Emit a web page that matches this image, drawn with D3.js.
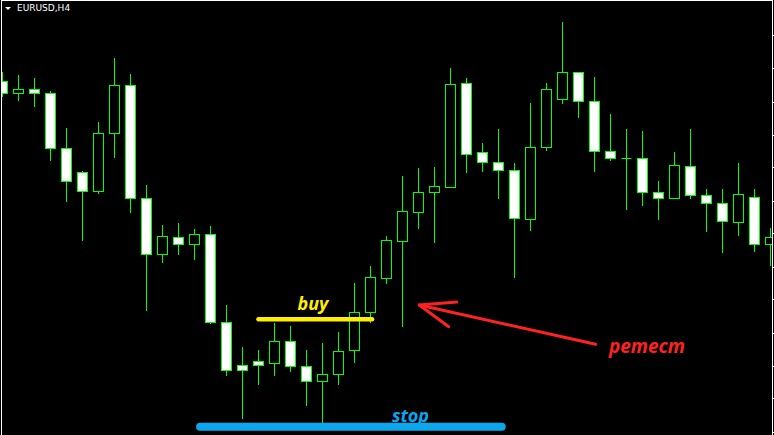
<!DOCTYPE html>
<html>
<head>
<meta charset="utf-8">
<script src="https://cdn.jsdelivr.net/npm/d3@7"></script>
<style>
  body { margin: 0; background: #000; }
  svg { display: block; }
</style>
</head>
<body>
<div id="chart"></div>
<script>
// EURUSD H4 candles
var opens  = [1.1369, 1.1357, 1.1361, 1.1357, 1.1302, 1.1278, 1.1259, 1.1317, 1.1365, 1.1252,
              1.1196, 1.1213, 1.1206, 1.1216, 1.1128, 1.1085, 1.1089, 1.1087, 1.1109, 1.1084,
              1.1069, 1.1076, 1.1100, 1.1138, 1.1172, 1.1209, 1.1238, 1.1258, 1.1263, 1.1367,
              1.1298, 1.1288, 1.1280, 1.1231, 1.1303, 1.1351, 1.1378, 1.1349, 1.1299, 1.1292,
              1.1292, 1.1258, 1.1252, 1.1284, 1.1255, 1.1247, 1.1228, 1.1253, 1.1206];
var highs  = [1.1378, 1.1375, 1.1372, 1.1359, 1.1322, 1.1279, 1.1328, 1.1392, 1.1376, 1.1265,
              1.1225, 1.1227, 1.1221, 1.1224, 1.1145, 1.1103, 1.1100, 1.1127, 1.1124, 1.1100,
              1.1107, 1.1118, 1.1167, 1.1184, 1.1214, 1.1274, 1.1282, 1.1283, 1.1382, 1.1372,
              1.1307, 1.1321, 1.1287, 1.1347, 1.1367, 1.1428, 1.1378, 1.1373, 1.1336, 1.1321,
              1.1319, 1.1269, 1.1298, 1.1321, 1.1261, 1.1261, 1.1287, 1.1261, 1.1222];
var lows   = [1.1353, 1.1349, 1.1343, 1.1289, 1.1248, 1.1209, 1.1256, 1.1292, 1.1237, 1.1139,
              1.1187, 1.1195, 1.1190, 1.1126, 1.1074, 1.1031, 1.1065, 1.1074, 1.1078, 1.1044,
              1.1027, 1.1065, 1.1087, 1.1127, 1.1166, 1.1123, 1.1221, 1.1207, 1.1262, 1.1277,
              1.1278, 1.1251, 1.1172, 1.1219, 1.1299, 1.1346, 1.1332, 1.1278, 1.1289, 1.1240,
              1.1244, 1.1230, 1.1252, 1.1251, 1.1218, 1.1197, 1.1214, 1.1198, 1.1184];
var closes = [1.1357, 1.1361, 1.1357, 1.1302, 1.1269, 1.1259, 1.1317, 1.1365, 1.1252, 1.1196,
              1.1214, 1.1206, 1.1216, 1.1128, 1.1080, 1.1080, 1.1085, 1.1109, 1.1084, 1.1069,
              1.1076, 1.1099, 1.1138, 1.1173, 1.1210, 1.1239, 1.1258, 1.1264, 1.1366, 1.1296,
              1.1288, 1.1280, 1.1232, 1.1303, 1.1361, 1.1378, 1.1349, 1.1299, 1.1292, 1.1292,
              1.1258, 1.1252, 1.1285, 1.1255, 1.1247, 1.1229, 1.1256, 1.1206, 1.1213];

// price axis tick positions (labels are off screen)
var tickPrices = [1.1415, 1.1382, 1.1348, 1.1315, 1.1283, 1.1249, 1.1217,
                  1.1183, 1.1151, 1.1117, 1.1084, 1.1052, 1.1018];

// hand drawn annotations: [candle index, price]
var buyLevel  = 1.11307, buyFrom = 16.0, buyTo = 23.1;
var stopLevel = 1.10233, stopFrom = 12.35, stopTo = 31.2;
var arrowPts  = [[37.07, 1.11057], [26.05, 1.1145]];
var arrowArms = [[28.39, 1.1148], [27.89, 1.11233]];
var labels = [
  { text: "buy",    i: 19.4,  p: 1.1140,  color: "#ffee00", anchor: "middle", size: 18 },
  { text: "stop",   i: 25.5,  p: 1.10283, color: "#0aa6ee", anchor: "middle", size: 18 },
  { text: "ретест", i: 37.9,  p: 1.10973, color: "#ff2222", anchor: "start",  size: 19 }
];

var svgWidth = 774;
var svgHeight = 435;

var candles = opens.map(function(o, i) {
  return { i: i, o: o, h: highs[i], l: lows[i], c: closes[i] };
});

var svg = d3.select("#chart")
  .append("svg")
  .attr("width", svgWidth)
  .attr("height", svgHeight)
  .style("background", "#000");

// scales: one candle every 16px, one pip per pixel
var x = d3.scaleLinear()
  .domain([0, candles.length - 1])
  .range([2.5, 2.5 + 16 * (candles.length - 1)]);

var y = d3.scaleLinear()
  .domain([1.1450, 1.1015])
  .range([0, svgHeight]);

svg.append("clipPath")
  .attr("id", "plot")
  .append("rect")
  .attr("x", 2).attr("y", 1)
  .attr("width", 770).attr("height", svgHeight);

var plot = svg.append("g").attr("clip-path", "url(#plot)");

var green = "#00ff00";

// wicks
plot.selectAll("line.wick")
  .data(candles)
  .enter()
  .append("line")
  .attr("class", "wick")
  .attr("x1", d => x(d.i))
  .attr("x2", d => x(d.i))
  .attr("y1", d => Math.round(y(d.h)))
  .attr("y2", d => Math.round(y(d.l)))
  .attr("stroke", green)
  .attr("stroke-width", 1);

// bodies
plot.selectAll("rect.body")
  .data(candles.filter(d => d.o !== d.c))
  .enter()
  .append("rect")
  .attr("class", "body")
  .attr("x", d => x(d.i) - 5)
  .attr("y", d => Math.round(y(Math.max(d.o, d.c))) + 0.5)
  .attr("width", 10)
  .attr("height", d => Math.round(y(Math.min(d.o, d.c))) - Math.round(y(Math.max(d.o, d.c))))
  .attr("fill", d => d.c < d.o ? "#ffffff" : "#000000")
  .attr("stroke", green)
  .attr("stroke-width", 1);

// doji
plot.selectAll("line.doji")
  .data(candles.filter(d => d.o === d.c))
  .enter()
  .append("line")
  .attr("class", "doji")
  .attr("x1", d => x(d.i) - 5)
  .attr("x2", d => x(d.i) + 5)
  .attr("y1", d => Math.round(y(d.o)) + 0.5)
  .attr("y2", d => Math.round(y(d.o)) + 0.5)
  .attr("stroke", green);

// frame
svg.append("line")
  .attr("x1", 1.5).attr("x2", 1.5).attr("y1", 0).attr("y2", svgHeight)
  .attr("stroke", "#fff");
svg.append("line")
  .attr("x1", 1).attr("x2", 773).attr("y1", 0.5).attr("y2", 0.5)
  .attr("stroke", "#fff");

var yAxis = d3.axisRight(y)
  .tickValues(tickPrices)
  .tickSize(3)
  .tickSizeOuter(0)
  .tickFormat("");

var axisG = svg.append("g")
  .attr("transform", "translate(772, 0)")
  .call(yAxis);
axisG.select(".domain").attr("stroke", "#fff");
axisG.selectAll(".tick line").attr("stroke", "#fff");

// title
svg.append("path")
  .attr("d", "M5,7L11,7L8,10Z")
  .attr("fill", "#fff");
svg.append("text")
  .attr("x", 17)
  .attr("y", 11)
  .attr("font-family", "DejaVu Sans")
  .attr("font-size", "9px")
  .attr("fill", "#fff")
  .text("EURUSD,H4");

// buy / stop lines
svg.append("line")
  .attr("x1", x(buyFrom)).attr("x2", x(buyTo))
  .attr("y1", y(buyLevel)).attr("y2", y(buyLevel))
  .attr("stroke", "#ffee00")
  .attr("stroke-width", 4.5)
  .attr("stroke-linecap", "round");

svg.append("line")
  .attr("x1", x(stopFrom)).attr("x2", x(stopTo))
  .attr("y1", y(stopLevel)).attr("y2", y(stopLevel))
  .attr("stroke", "#0aa6ee")
  .attr("stroke-width", 8)
  .attr("stroke-linecap", "round");

// arrow
var tip = arrowPts[1];
var arrowLine = d3.line().x(d => x(d[0])).y(d => y(d[1]));
svg.append("path")
  .attr("d", arrowLine(arrowPts))
  .attr("fill", "none")
  .attr("stroke", "#ff2222")
  .attr("stroke-width", 3)
  .attr("stroke-linecap", "round");
arrowArms.forEach(function(a) {
  svg.append("path")
    .attr("d", arrowLine([a, tip]))
    .attr("fill", "none")
    .attr("stroke", "#ff2222")
    .attr("stroke-width", 3)
    .attr("stroke-linecap", "round");
});

// labels
svg.selectAll("text.note")
  .data(labels)
  .enter()
  .append("text")
  .attr("class", "note")
  .attr("x", d => x(d.i))
  .attr("y", d => y(d.p))
  .attr("text-anchor", d => d.anchor)
  .attr("font-family", "'Open Sans', 'Noto Sans', sans-serif")
  .attr("font-style", "italic")
  .attr("font-weight", "bold")
  .attr("font-size", d => d.size + "px")
  .attr("fill", d => d.color)
  .text(d => d.text);
</script>
</body>
</html>
